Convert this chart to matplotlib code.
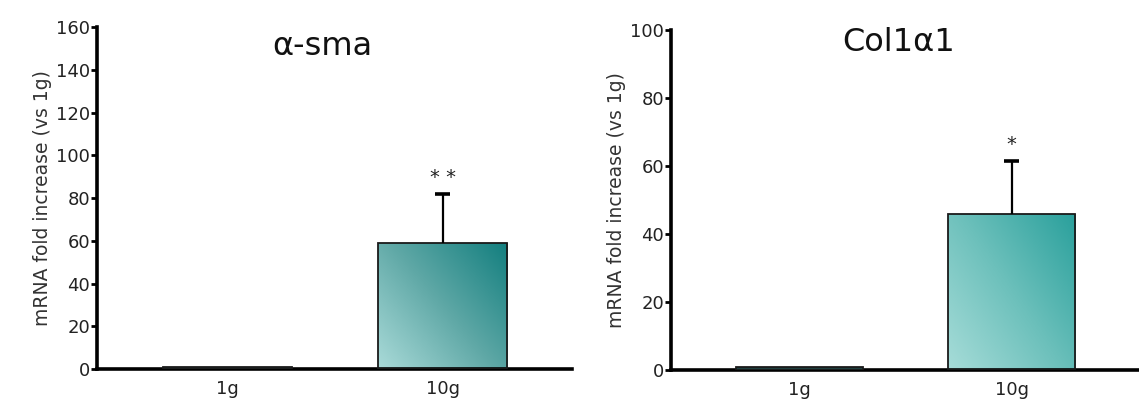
import numpy as np
import matplotlib.pyplot as plt
from matplotlib.colors import LinearSegmentedColormap

groups = ['1g', '10g']
sma_means = [1.0, 59.0]
sma_err = [0.0, 23.0]
sma_stars = ['', '* *']
col_means = [0.8, 46.0]
col_err = [0.0, 15.5]
col_stars = ['', '*']

plt.rcParams['font.family'] = 'DejaVu Sans'


def gradient_bar(ax, bar, cmap):
    # fill a bar with a diagonal gradient, clipped to the bar shape
    x0, y0 = bar.get_x(), bar.get_y()
    w, h = bar.get_width(), bar.get_height()
    xx, yy = np.meshgrid(np.linspace(0, 1, 60), np.linspace(0, 1, 60))
    z = 0.55 * xx + 0.45 * yy
    im = ax.imshow(z, cmap=cmap, origin='lower', extent=[x0, x0 + w, y0, y0 + h],
                   aspect='auto', zorder=2, interpolation='bilinear')
    im.set_clip_path(bar)


def panel(ax, means, err, stars, ymax, step, title, title_xy, cmap):
    x = np.arange(len(groups))
    bars = ax.bar(x, means, width=0.6, color='none', edgecolor='#1a1a1a',
                  linewidth=1.3, zorder=3)
    bars[0].set_facecolor('#1f3f3f')
    gradient_bar(ax, bars[1], cmap)
    # upper error bars only
    for xi, m, e, s in zip(x, means, err, stars):
        if e > 0:
            ax.vlines(xi, m, m + e, color='black', linewidth=1.6, zorder=4)
            ax.hlines(m + e, xi - 0.035, xi + 0.035, color='black',
                      linewidth=2.6, zorder=4)
        if s:
            ax.text(xi, m + e + ymax * 0.02, s, ha='center', va='bottom',
                    fontsize=14, color='#222222')
    ax.set_xlim(-0.606, x[-1] + 0.6)
    ax.set_ylim(0, ymax)
    ax.set_yticks(np.arange(0, ymax + 1, step))
    ax.set_xticks(x)
    ax.set_xticklabels(groups)
    ax.tick_params(axis='x', length=0, pad=8, labelsize=13, labelcolor='#222222')
    ax.tick_params(axis='y', length=4, width=2, pad=1, labelsize=13,
                   labelcolor='#222222')
    for side in ['top', 'right']:
        ax.spines[side].set_visible(False)
    for side in ['left', 'bottom']:
        ax.spines[side].set_linewidth(2.6)
    ax.set_ylabel('mRNA fold increase (vs 1g)', fontsize=13.5, color='#333333',
                  labelpad=3)
    ax.text(title_xy[0], title_xy[1], title, ha='center', va='center',
            fontsize=23, color='#111111')


fig = plt.figure(figsize=(11.39, 4.17), dpi=100)
ax1 = fig.add_axes([0.0852, 0.1151, 0.417, 0.820])
ax2 = fig.add_axes([0.589, 0.1127, 0.411, 0.815])

cmap1 = LinearSegmentedColormap.from_list('g1', ['#a9dad8', '#5fa8a6', '#137f7f'])
cmap2 = LinearSegmentedColormap.from_list('g2', ['#a6dcd8', '#6cc0bb', '#2aa09c'])

panel(ax1, sma_means, sma_err, sma_stars, 160, 20, 'α-sma', (0.44, 151), cmap1)
panel(ax2, col_means, col_err, col_stars, 100, 20, 'Col1α1', (0.465, 96.5), cmap2)

fig.savefig('out.png', dpi=100)
